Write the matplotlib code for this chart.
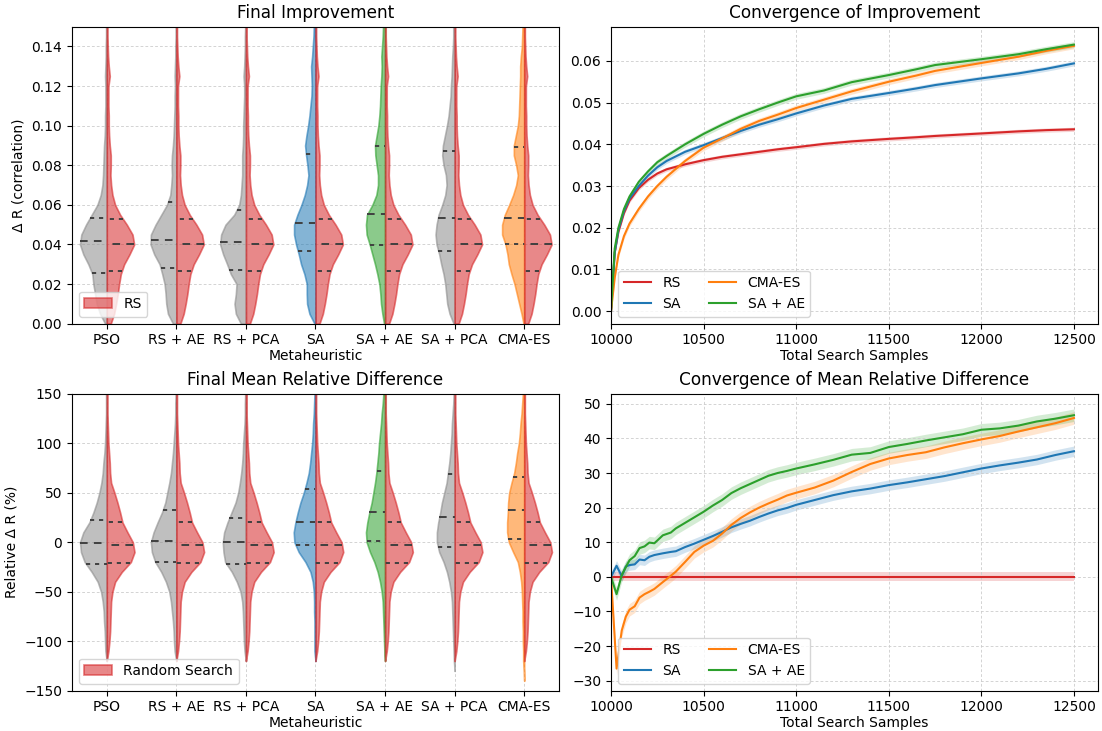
import numpy as np
import matplotlib
matplotlib.use("Agg")
import matplotlib.pyplot as plt
from matplotlib.patches import Patch
from matplotlib.colors import to_rgba

# ---------------- data ----------------
methods = ["PSO", "RS + AE", "RS + PCA", "SA", "SA + AE", "SA + PCA", "CMA-ES"]
method_colors = ["#8c8c8c", "#8c8c8c", "#8c8c8c", "tab:blue", "tab:green", "#8c8c8c", "tab:orange"]
rs_color = "tab:red"

# violin half-widths (1 category = 208 units) at fixed levels
imp_levels = np.linspace(0.0, 0.15, 31)
imp_rs = [12, 22, 28, 33, 37, 42, 52, 68, 82, 77, 60, 40, 25, 17, 13, 11, 12, 12, 9, 7, 6, 6, 5, 5, 5, 9, 6, 4, 3, 2, 2]
imp_pso = [5, 20, 30, 35, 40, 43, 55, 70, 80, 76, 62, 45, 28, 18, 13, 11, 10, 9, 8, 6, 5, 5, 4, 4, 4, 5, 4, 3, 3, 2, 2]
imp_rs_ae = [10, 25, 30, 32, 35, 42, 50, 66, 77, 76, 62, 45, 28, 18, 15, 13, 14, 13, 10, 8, 7, 6, 5, 5, 4, 5, 4, 3, 3, 2, 2]
imp_rs_pca = [15, 30, 34, 30, 28, 45, 56, 68, 77, 74, 61, 35, 20, 15, 13, 11, 11, 11, 9, 8, 8, 7, 6, 5, 5, 7, 5, 4, 3, 3, 2]
imp_sa = [3, 18, 25, 26, 26, 33, 43, 50, 58, 64, 64, 54, 42, 32, 25, 21, 24, 28, 31, 27, 22, 18, 15, 12, 11, 12, 13, 10, 8, 6, 5]
imp_sa_ae = [3, 8, 12, 14, 17, 23, 30, 38, 46, 55, 57, 54, 38, 26, 21, 21, 25, 29, 30, 25, 20, 17, 15, 14, 13, 11, 10, 11, 9, 7, 6]
imp_sa_pca = [3, 15, 22, 25, 28, 33, 40, 46, 54, 57, 54, 48, 37, 28, 24, 26, 33, 37, 35, 29, 23, 18, 15, 12, 11, 9, 8, 7, 5, 4, 4]
imp_cma = [2, 8, 15, 22, 29, 38, 46, 50, 56, 66, 66, 58, 45, 33, 24, 19, 24, 31, 31, 25, 19, 16, 15, 14, 13, 12, 12, 10, 7, 6, 5]
imp_quart_rs = [0.0266, 0.0402, 0.0529]
imp_quart = [[0.0258, 0.0418, 0.0536], [0.0282, 0.0424, 0.0613], [0.0273, 0.0413, 0.0576],
             [0.0365, 0.0508, 0.0857], [0.0395, 0.0553, 0.0897], [0.0365, 0.0532, 0.0874],
             [0.0400, 0.0533, 0.0890]]

mrd_levels = np.linspace(-150, 150, 31)
mrd_rs = [0, 0, 0, 0, 5, 8, 10, 11, 12, 13, 17, 25, 45, 72, 83, 78, 62, 47, 40, 32, 23, 13, 10, 9, 7, 5, 4, 3, 2, 2, 2]
mrd_pso = [0, 0, 0, 0, 4, 5, 6, 8, 9, 12, 17, 27, 45, 66, 77, 80, 70, 52, 40, 30, 22, 16, 12, 10, 7, 5, 4, 3, 2, 2, 2]
mrd_rs_ae = [0, 0, 0, 0, 5, 7, 8, 10, 13, 16, 21, 31, 45, 63, 73, 76, 68, 56, 43, 33, 27, 21, 16, 13, 10, 8, 6, 4, 3, 3, 2]
mrd_rs_pca = [0, 0, 0, 0, 4, 6, 7, 8, 9, 11, 16, 27, 42, 62, 67, 69, 65, 55, 43, 31, 23, 18, 14, 11, 9, 8, 6, 4, 3, 3, 2]
mrd_sa = [0, 0, 0, 0, 3, 3, 3, 3, 4, 4, 5, 8, 15, 30, 50, 63, 65, 60, 53, 45, 35, 27, 20, 16, 13, 10, 8, 7, 5, 4, 3]
mrd_sa_ae = [0, 0, 0, 0, 2, 3, 4, 5, 6, 7, 10, 15, 22, 32, 45, 55, 57, 53, 47, 40, 35, 30, 26, 23, 20, 18, 15, 12, 10, 7, 5]
mrd_sa_pca = [0, 0, 0, 2, 3, 4, 5, 6, 7, 8, 11, 16, 23, 33, 46, 53, 53, 49, 43, 38, 31, 24, 20, 16, 13, 11, 9, 8, 6, 4, 3]
mrd_cma = [0, 0, 1, 3, 3, 4, 4, 5, 5, 6, 7, 9, 13, 19, 33, 46, 51, 51, 49, 48, 45, 38, 30, 25, 21, 16, 13, 11, 8, 6, 4]
mrd_quart_rs = [-21.2, -2.4, 20.9]
mrd_quart = [[-21.9, -1.0, 22.6], [-19.9, 1.0, 32.3], [-21.9, 0.3, 24.6],
             [-3.0, 20.5, 53.9], [1.3, 30.6, 71.7], [-4.7, 25.6, 69.0],
             [3.4, 32.3, 65.7]]

# convergence curves
series = ["RS", "SA", "CMA-ES", "SA + AE"]
series_colors = ["tab:red", "tab:blue", "tab:orange", "tab:green"]

samples_imp = [10000, 10020, 10040, 10070, 10100, 10150, 10200, 10250, 10300, 10400, 10500, 10600, 10700,
               10800, 10900, 11000, 11150, 11300, 11500, 11650, 11750, 12000, 12200, 12350, 12500]
imp_curve_rs = [0, .014, .019, .0235, .0265, .0295, .0315, .033, .034, .0352, .0362, .037, .0376,
                .0382, .0388, .0393, .0401, .0407, .0413, .0417, .0420, .0426, .0431, .0434, .0436]
imp_curve_sa = [0, .014, .0195, .024, .027, .030, .0325, .0345, .036, .0382, .0398, .0415, .0432,
                .0447, .046, .0474, .0493, .0509, .0523, .0534, .0542, .0558, .0570, .0581, .0594]
imp_curve_cma = [0, .008, .0135, .018, .021, .0245, .0275, .030, .0322, .036, .0392, .0414, .0437,
                 .0456, .0471, .0487, .0507, .0527, .0550, .0565, .0576, .0595, .0610, .0624, .0636]
imp_curve_sa_ae = [0, .015, .020, .0245, .0275, .031, .0335, .0357, .0372, .040, .0425, .0447, .0467,
                   .0484, .050, .0515, .0529, .0549, .0566, .0580, .0590, .0604, .0616, .0628, .0639]
imp_band = [0.0005, 0.0006, 0.0007, 0.0007]

samples_mrd = [10000, 10030, 10058, 10080, 10100, 10128, 10154, 10181, 10207, 10234, 10280, 10323, 10350,
               10400, 10450, 10500, 10550, 10600, 10650, 10700, 10750, 10800, 10850, 10900, 10950, 11000,
               11100, 11200, 11300, 11400, 11500, 11600, 11700, 11800, 11900, 12000, 12100, 12200, 12300,
               12400, 12500]
mrd_curve_rs = [0.0] * len(samples_mrd)
mrd_curve_sa = [0, 3.2, 0.2, 3.0, 3.4, 3.6, 5.0, 4.8, 5.8, 6.3, 6.8, 7.2, 7.4, 8.6, 9.6, 10.7, 11.8, 13.0,
                14.3, 15.3, 16.2, 17.3, 18.3, 19.2, 19.9, 20.8, 22.2, 23.6, 24.7, 25.5, 26.5, 27.3, 28.2,
                29.1, 30.2, 31.3, 32.2, 33.0, 33.9, 35.2, 36.3]
mrd_curve_cma = [0, -26.5, -15.5, -11.5, -9.5, -8.5, -6.0, -5.0, -4.3, -3.5, -1.5, 0.3, 1.5, 4.3, 7.2, 9.0,
                 10.4, 12.5, 15.0, 17.0, 18.6, 20.0, 21.2, 22.3, 23.5, 24.3, 25.8, 27.8, 30.3, 32.6, 34.2,
                 35.2, 36.0, 37.4, 38.6, 39.7, 40.7, 42.0, 43.2, 44.4, 45.9]
mrd_curve_sa_ae = [0, -5.0, 0.5, 2.8, 4.8, 6.0, 8.3, 8.8, 9.9, 9.7, 12.0, 12.8, 14.0, 15.6, 17.2, 18.8,
                   20.6, 22.2, 24.2, 25.6, 26.8, 28.0, 29.2, 30.0, 30.6, 31.3, 32.5, 33.8, 35.3, 35.8, 37.5,
                   38.4, 39.4, 40.3, 41.2, 42.5, 42.9, 43.7, 44.9, 45.7, 46.7]
mrd_band = [1.3, 1.5, 1.8, 1.8]

# ---------------- style ----------------
plt.rcParams["font.size"] = 10
plt.rcParams["axes.titlesize"] = 12.2
plt.rcParams["lines.scale_dashes"] = False

CAT_UNITS = 208.0  # width units per category step
QLINE = "0.25"
GRID = dict(ls=(0, (2, 1.5)), lw=0.6, color="0.8")


def half_violin(ax, pos, levels, widths, color, side, quarts):
    w = np.asarray(widths, float) / CAT_UNITS
    nz = np.nonzero(w)[0]
    lo, hi = max(nz[0] - 1, 0), min(nz[-1] + 1, len(w) - 1)
    lv, w = levels[lo:hi + 1], w[lo:hi + 1]
    ax.fill_betweenx(lv, pos, pos + side * w, facecolor=to_rgba(color, 0.55),
                     edgecolor=to_rgba(color, 0.6), linewidth=1.2, zorder=2)
    for k, q in enumerate(quarts):
        hw = np.interp(q, lv, w)
        dashes = (5.5, 4.5) if k == 1 else (3.0, 3.5)
        ax.plot([pos + side * hw, pos], [q, q], color=QLINE, lw=1.4, dashes=dashes,
                solid_capstyle="butt", zorder=3)


def violin_panel(ax, levels, left_widths, rs_widths, quarts, rs_quarts, title, ylabel, ylim, legend_label):
    for i, (wl, q, c) in enumerate(zip(left_widths, quarts, method_colors)):
        half_violin(ax, i, levels, wl, c, -1, q)
        half_violin(ax, i, levels, rs_widths, rs_color, 1, rs_quarts)
    ax.set_xlim(-0.5, len(methods) - 0.5)
    ax.set_ylim(*ylim)
    ax.set_xticks(range(len(methods)))
    ax.set_xticklabels(methods)
    ax.set_title(title)
    ax.set_xlabel("Metaheuristic", labelpad=1)
    ax.set_ylabel(ylabel)
    ax.grid(True, **GRID)
    ax.set_axisbelow(True)
    handle = Patch(facecolor=to_rgba(rs_color, 0.55), edgecolor=to_rgba(rs_color, 0.6), lw=1.2)
    ax.legend([handle], [legend_label], loc="lower left")


def curve_panel(ax, x, curves, bands, title, ylim, yticks):
    for name, y, b, c in zip(series, curves, bands, series_colors):
        y = np.asarray(y, float)
        ax.fill_between(x, y - b, y + b, color=c, alpha=0.2, lw=0)
        ax.plot(x, y, color=c, lw=1.5, label=name)
    ax.set_xlim(10000, 12630)
    ax.set_ylim(*ylim)
    ax.set_xticks(range(10000, 12501, 500))
    ax.set_yticks(yticks)
    ax.set_title(title)
    ax.set_xlabel("Total Search Samples", labelpad=1)
    ax.grid(True, **GRID)
    ax.legend(loc="lower left", ncol=2)


fig = plt.figure(figsize=(11.02, 7.31), dpi=100)
axs = fig.subplots(2, 2)
fig.subplots_adjust(left=0.0653, right=0.9964, top=0.9635, bottom=0.0551, wspace=0.1068, hspace=0.236)

violin_panel(axs[0, 0], imp_levels,
             [imp_pso, imp_rs_ae, imp_rs_pca, imp_sa, imp_sa_ae, imp_sa_pca, imp_cma],
             imp_rs, imp_quart, imp_quart_rs, "Final Improvement", "\u0394 R (correlation)",
             (0.0, 0.15), "RS")
violin_panel(axs[1, 0], mrd_levels,
             [mrd_pso, mrd_rs_ae, mrd_rs_pca, mrd_sa, mrd_sa_ae, mrd_sa_pca, mrd_cma],
             mrd_rs, mrd_quart, mrd_quart_rs, "Final Mean Relative Difference", "Relative \u0394 R (%)",
             (-150, 150), "Random Search")
axs[0, 0].set_yticks(np.arange(0, 0.141, 0.02))
axs[1, 0].set_yticks(range(-150, 151, 50))

curve_panel(axs[0, 1], samples_imp,
            [imp_curve_rs, imp_curve_sa, imp_curve_cma, imp_curve_sa_ae], imp_band,
            "Convergence of Improvement", (-0.0030, 0.0682), np.arange(0, 0.061, 0.01))
curve_panel(axs[1, 1], samples_mrd,
            [mrd_curve_rs, mrd_curve_sa, mrd_curve_cma, mrd_curve_sa_ae], mrd_band,
            "Convergence of Mean Relative Difference", (-32.9, 52.9), range(-30, 51, 10))

fig.savefig("out.png", dpi=100)
